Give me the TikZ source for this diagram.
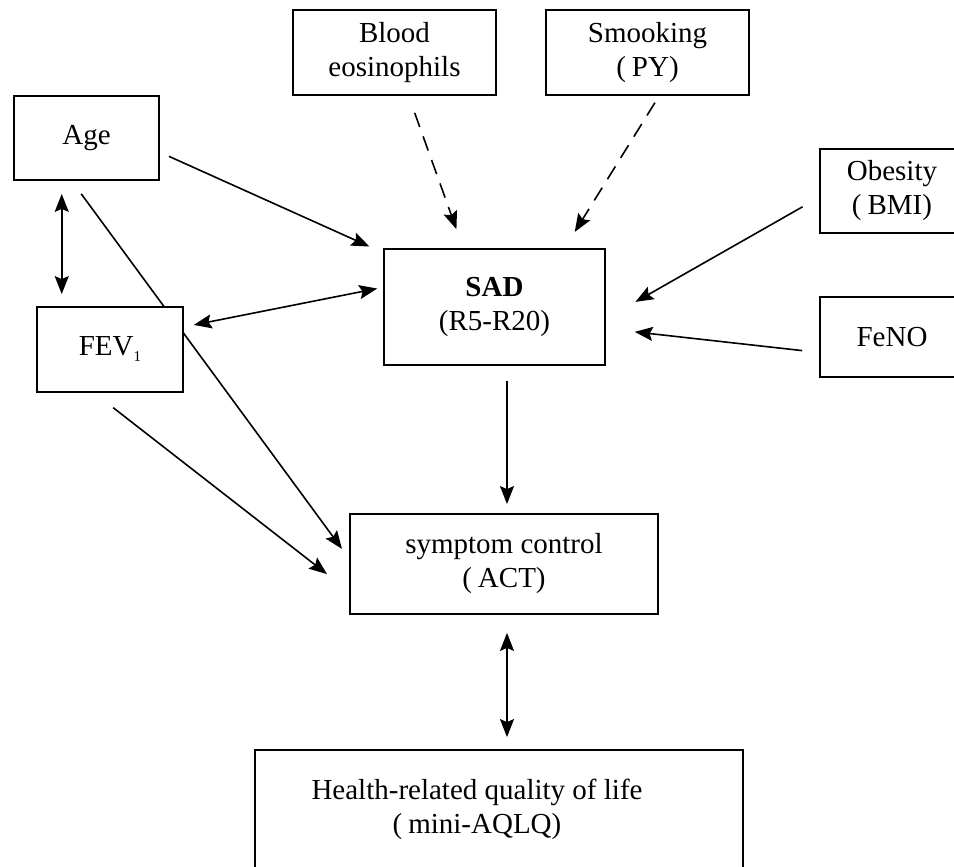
\documentclass[tikz,border=0pt]{standalone}
\usepackage{fontspec}
\setmainfont{Liberation Serif}
\usetikzlibrary{arrows.meta, backgrounds}

\begin{document}
\begin{tikzpicture}[
  x=1pt, y=-1pt,
  >={Stealth[length=18pt, width=14pt, inset=3pt]},
  box/.style={draw, line width=1.8pt, fill=white, inner sep=0pt, align=center,
    font=\fontsize{29}{34}\selectfont},
  arr/.style={line width=1.6pt, ->},
  dbl/.style={line width=1.6pt, <->},
  dasharr/.style={arr, dash pattern=on 15pt off 10pt},
]
  \useasboundingbox (0,0) rectangle (954,867);

  % factors
  \node[box, minimum width=145pt, minimum height=84pt] (age) at (86.5,138) {Age};
  \node[box, minimum width=146pt, minimum height=85pt] (fev) at (110,349.5)
    {FEV\raisebox{-6pt}{\fontsize{15}{15}\selectfont 1}};
  \node[box, minimum width=203pt, minimum height=85pt] (blood) at (394.5,52.5)
    {Blood\\eosinophils};
  \node[box, minimum width=203pt, minimum height=85pt] (smoke) at (647.5,52.5)
    {Smooking\\(\hspace{6pt}PY)};
  \node[box, minimum width=144pt, minimum height=84pt] (obes) at (892,191)
    {Obesity\\(\hspace{6pt}BMI)};
  \node[box, minimum width=144pt, minimum height=80pt] (feno) at (892,337) {FeNO};

  % outcomes
  \node[box, minimum width=221pt, minimum height=116pt] (sad) at (494.5,307)
    {\textbf{SAD}\\(R5-R20)};
  \node[box, minimum width=308pt, minimum height=100pt] (sym) at (504,564)
    {symptom control\\(\hspace{6pt}ACT)};
  \node[box, minimum width=488pt, minimum height=130pt] (hrq) at (499,815)
    {\phantom{x}};
  \node[font=\fontsize{29}{34}\selectfont, align=center] (hrqtxt) at (477,809)
    {Health-related quality of life\\(\hspace{6pt}mini-AQLQ)};

  \begin{scope}[on background layer]
    \fill[white] (0,0) rectangle (954,867);
    \draw[arr, shorten <=10pt, shorten >=15pt] (age.-11.6) -- (sad.154.5);
    \draw[dbl, shorten <=13pt, shorten >=12pt] (age.-120.3) -- (age.-120.3 |- fev.north);
    \draw[arr, shorten <=16pt, shorten >=12pt] (age.-109.6) -- (sym.178.3);
    \draw[dbl, shorten <=10pt, shorten >=6pt] (fev.17.2) -- (sad.170.7);
    \draw[arr, shorten <=24pt, shorten >=28pt] (fev.-110.9) -- (sym.190.4);
    \draw[dasharr, shorten <=18pt, shorten >=20pt] (blood.-72.4) -- (sad.118.7);
    \draw[dasharr, shorten <=8pt, shorten >=19pt] (smoke.-75.7) -- (sad.40.2);
    \draw[arr, shorten <=19pt, shorten >=34pt] (obes.185.9) -- (sad.-6.7);
    \draw[arr, shorten <=17pt, shorten >=29pt] (feno.192.3) -- (sad.-11.8);
    \draw[arr, shorten <=15pt, shorten >=9pt]
      ([xshift=12.5pt]sad.south) -- ([xshift=12.5pt]sad.south |- sym.north);
    \draw[dbl, shorten <=18pt, shorten >=12pt]
      ([xshift=3pt]sym.south) -- ([xshift=3pt]sym.south |- hrq.north);
  \end{scope}
\end{tikzpicture}
\end{document}
